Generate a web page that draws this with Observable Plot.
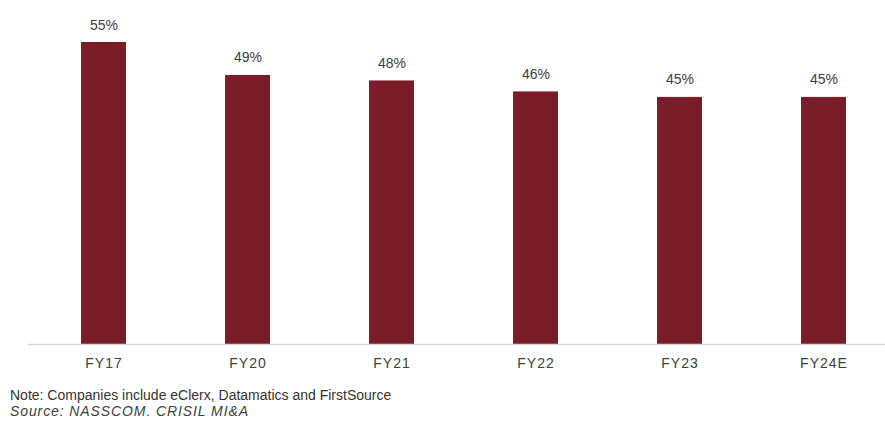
<!DOCTYPE html>
<html>
<head>
<meta charset="utf-8">
<script src="https://cdn.jsdelivr.net/npm/d3@7"></script>
<script src="https://cdn.jsdelivr.net/npm/@observablehq/plot@0.6"></script>
<style>
  body { margin: 0; background: #fff; font-family: "Liberation Sans", Arial, sans-serif; }
  #notes { padding-left: 10px; margin-top: 7px; }
  .note { font-size: 14px; color: #333; line-height: 16px; }
  .src { font-size: 14px; color: #404040; font-style: italic; line-height: 16px; letter-spacing: 0.9px; }
</style>
</head>
<body>
<div id="chart"></div>
<div id="notes">
  <div class="note">Note: Companies include eClerx, Datamatics and FirstSource</div>
  <div class="src">Source: NASSCOM. CRISIL MI&amp;A</div>
</div>
<script>
const categories = ["FY17", "FY20", "FY21", "FY22", "FY23", "FY24E"];
const values = [55, 49, 48, 46, 45, 45];
const labels = ["55%", "49%", "48%", "46%", "45%", "45%"];

const data = categories.map((c, i) => ({cat: c, v: values[i], label: labels[i]}));

const chart = Plot.plot({
  width: 885,
  height: 380,
  marginTop: 42,
  marginBottom: 36,
  marginLeft: 28,
  marginRight: 0,
  style: {fontFamily: "'Liberation Sans', Arial, sans-serif", background: "#fff"},
  x: {domain: categories, paddingInner: 0.69, paddingOuter: 0.305, align: 0.578, label: null},
  y: {domain: [0, 55], axis: null},
  marks: [
    Plot.barY(data, {x: "cat", y: "v", fill: "#7b1d29"}),
    Plot.ruleY([0], {stroke: "#d9d9d9", strokeWidth: 1.5}),
    Plot.text(data, {x: "cat", y: "v", text: "label", dy: -13, lineAnchor: "bottom", fontSize: 14, fill: "#404040", style: "letter-spacing: 0.7px"}),
    Plot.axisX({tickSize: 0, tickPadding: 14, fontSize: 14, color: "#404040", label: null})
  ]
});
chart.querySelectorAll("[aria-label='x-axis tick label'] text").forEach(t => t.style.letterSpacing = "1px");
document.getElementById("chart").appendChild(chart);
</script>
</body>
</html>
